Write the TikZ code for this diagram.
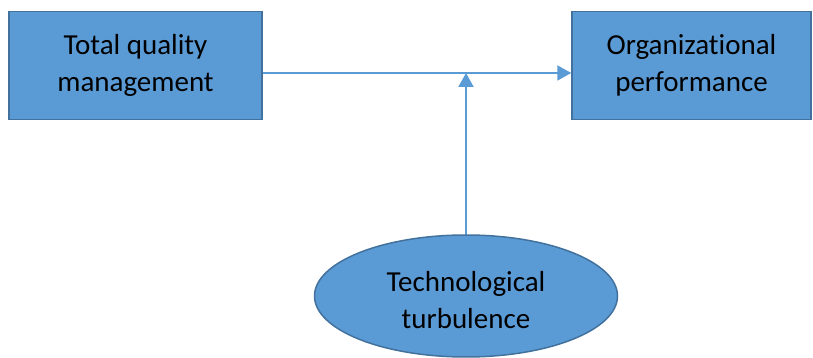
\documentclass[tikz,border=0pt]{standalone}
\usepackage{fontspec}
\setmainfont[Ligatures=NoCommon]{Carlito}
\usetikzlibrary{calc,positioning,arrows.meta,shapes.geometric}
\definecolor{BoxBlue}{HTML}{5B9BD5}
\definecolor{BoxEdge}{HTML}{41719C}

\tikzset{
  varbox/.style={draw=BoxEdge, line width=1.5pt, fill=BoxBlue, align=center,
    inner sep=0pt, font=\fontsize{29}{37}\selectfont},
  link/.style={draw=BoxBlue, line width=2pt, -{Triangle[length=14pt,width=15pt]}}
}

\begin{document}
\begin{tikzpicture}[x=1pt,y=1pt]
        \useasboundingbox (0,0) rectangle (813,358);
        \node[varbox, minimum width=253pt, minimum height=108pt] (tqm) at (135.5,292.5) {Total quality\\management};
        \node[varbox, minimum width=239pt, minimum height=108pt] (perf) at (691.5,292.5) {Organizational\\performance};
        \node[varbox, ellipse, minimum width=303pt, minimum height=122pt] (turb) at (466,62) {};
        \node[align=center, inner sep=0pt, font=\fontsize{29}{37}\selectfont] (turbtext)
          at ([yshift=-4pt]turb.center) {Technological\\turbulence};

        \coordinate (mid) at ($(tqm.east)!0.5!(perf.west) + (-0.5,-7.5)$);
        \draw[link] ([yshift=-7.5pt]tqm.east) -- ([yshift=-7.5pt]perf.west);
        \draw[link] (turb.north) -- (turb.north |- mid);
    \end{tikzpicture}
\end{document}
